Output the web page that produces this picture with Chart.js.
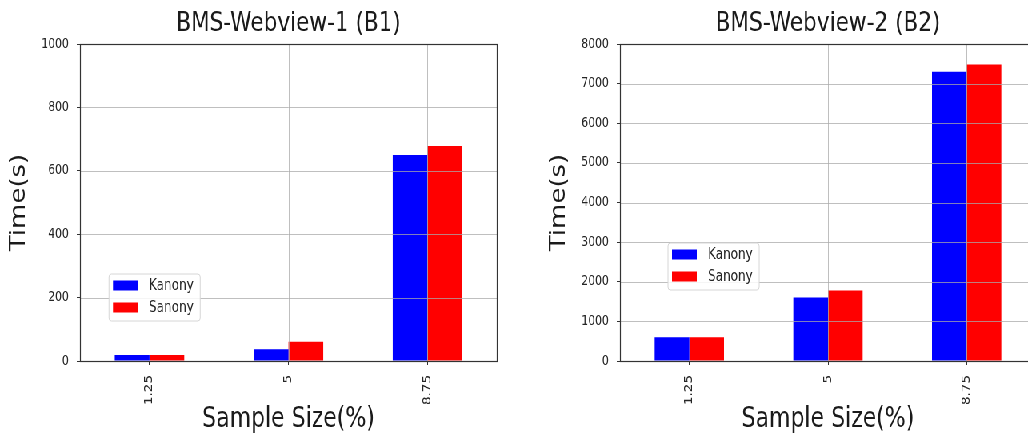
<!DOCTYPE html>
<html>
<head>
<meta charset="utf-8">
<script src="https://cdn.jsdelivr.net/npm/chart.js@4/dist/chart.umd.min.js"></script>
<style>
  html, body { margin: 0; padding: 0; background: #ffffff; overflow: hidden; width: 1028px; height: 434px; }
  #stage { position: absolute; left: 0; top: 0; width: 1285px; height: 434px; transform: scaleX(0.8); transform-origin: 0 0; }
  #b1 { position: absolute; left: 0; top: 0; }
  #b2 { position: absolute; left: 643px; top: 0; }
</style>
</head>
<body>
<div id="stage">
  <canvas id="b1" width="643" height="434"></canvas>
  <canvas id="b2" width="680" height="434"></canvas>
</div>
<script>
// Sample sizes (%) on the x axis
const sampleSizes = ['1.25', '5', '8.75'];
const seriesNames = ['Kanony', 'Sanony'];
const seriesColors = ['#0000ff', '#ff0000'];

// BMS-Webview-1 run times (s)
const b1Kanony = [19, 37, 650];
const b1Sanony = [19, 61, 678];
// BMS-Webview-2 run times (s)
const b2Kanony = [600, 1600, 7300];
const b2Sanony = [600, 1780, 7480];

// y-axis ranges
const b1Max = 1000, b1Step = 200;
const b2Max = 8000, b2Step = 1000;

const FONT = "'DejaVu Sans', 'Liberation Sans', sans-serif";
const INK = '#262626';

// Grid over the bars, axes frame and inset legend
const overlay = {
  id: 'overlay',
  afterDatasetsDraw(chart, args, opts) {
    const ctx = chart.ctx;
    const a = chart.chartArea;
    const x = chart.scales.x, y = chart.scales.y;
    ctx.save();
    ctx.strokeStyle = 'rgba(170,170,170,0.75)';
    ctx.lineWidth = 1;
    ctx.beginPath();
    x.ticks.forEach((t, i) => {
      const px = Math.round(x.getPixelForTick(i)) + 0.5;
      ctx.moveTo(px, a.top); ctx.lineTo(px, a.bottom);
    });
    y.ticks.forEach((t, i) => {
      const py = Math.round(y.getPixelForTick(i)) + 0.5;
      ctx.moveTo(a.left, py); ctx.lineTo(a.right, py);
    });
    ctx.stroke();

    // frame
    ctx.strokeStyle = '#333333';
    ctx.lineWidth = 1.2;
    ctx.strokeRect(Math.round(a.left) + 0.5, Math.round(a.top) + 0.5,
                   Math.round(a.right - a.left), Math.round(a.bottom - a.top));

    // legend
    const lx = a.left + opts.dx, ly = opts.top;
    const w = 114, h = 47, r = 3;
    ctx.beginPath();
    ctx.moveTo(lx + r, ly);
    ctx.arcTo(lx + w, ly, lx + w, ly + h, r);
    ctx.arcTo(lx + w, ly + h, lx, ly + h, r);
    ctx.arcTo(lx, ly + h, lx, ly, r);
    ctx.arcTo(lx, ly, lx + w, ly, r);
    ctx.closePath();
    ctx.fillStyle = 'rgba(255,255,255,0.85)';
    ctx.fill();
    ctx.strokeStyle = '#d6d6d6';
    ctx.lineWidth = 1;
    ctx.stroke();
    ctx.font = '15px ' + FONT;
    ctx.textBaseline = 'middle';
    ctx.textAlign = 'left';
    chart.data.datasets.forEach((ds, i) => {
      const cy = ly + 11.5 + i * 22;
      ctx.fillStyle = ds.backgroundColor;
      ctx.fillRect(lx + 5, cy - 5, 31, 10);
      ctx.fillStyle = INK;
      ctx.fillText(ds.label, lx + 50, cy + 0.5);
    });
    ctx.restore();
  }
};

function makeChart(id, title, kanony, sanony, maxV, step, padLeft, padRight, legendDx, legendTop) {
  return new Chart(document.getElementById(id), {
    type: 'bar',
    data: {
      labels: sampleSizes,
      datasets: [
        { label: seriesNames[0], data: kanony, backgroundColor: seriesColors[0], borderWidth: 0 },
        { label: seriesNames[1], data: sanony, backgroundColor: seriesColors[1], borderWidth: 0 }
      ]
    },
    options: {
      responsive: false,
      animation: false,
      events: [],
      layout: { padding: { left: padLeft, right: padRight, top: 0, bottom: 0 } },
      datasets: { bar: { categoryPercentage: 0.5, barPercentage: 1.0 } },
      plugins: {
        legend: { display: false },
        tooltip: { enabled: false },
        title: {
          display: true, text: title, color: '#1a1a1a', fullSize: false,
          font: { family: FONT, size: 27, weight: 'normal', lineHeight: 1.2 },
          padding: { top: 8, bottom: 3.6 }
        },
        overlay: { dx: legendDx, top: legendTop }
      },
      scales: {
        x: {
          grid: { display: true, offset: false, color: 'rgba(0,0,0,0)', tickColor: '#333333', tickLength: 4, lineWidth: 1 },
          border: { display: false },
          ticks: { color: INK, font: { family: FONT, size: 13.5 }, minRotation: 90, maxRotation: 90, padding: 10, autoSkip: false },
          title: { display: true, text: 'Sample Size(%)', color: '#1a1a1a', font: { family: FONT, size: 27.5, lineHeight: 1 }, padding: { top: 0, bottom: 0 } },
          afterFit: (s) => { s.height = 73; }
        },
        y: {
          min: 0, max: maxV,
          grid: { display: true, color: 'rgba(0,0,0,0)', tickColor: '#333333', tickLength: 4, lineWidth: 1 },
          border: { display: false },
          ticks: { stepSize: step, color: INK, font: { family: FONT, size: 13.5 }, padding: 10, callback: (v) => String(v) },
          title: { display: true, text: 'Time(s)', color: '#1a1a1a', font: { family: FONT, size: 26, lineHeight: 1 }, padding: { top: 1, bottom: 0 } },
          afterFit: (s) => { s.width = 90; }
        }
      }
    },
    plugins: [overlay]
  });
}

makeChart('b1', 'BMS-Webview-1 (B1)', b1Kanony, b1Sanony, b1Max, b1Step, 10, 21.75, 36.25, 274);
makeChart('b2', 'BMS-Webview-2 (B2)', b2Kanony, b2Sanony, b2Max, b2Step, 42, 28, 60, 243);
</script>
</body>
</html>
